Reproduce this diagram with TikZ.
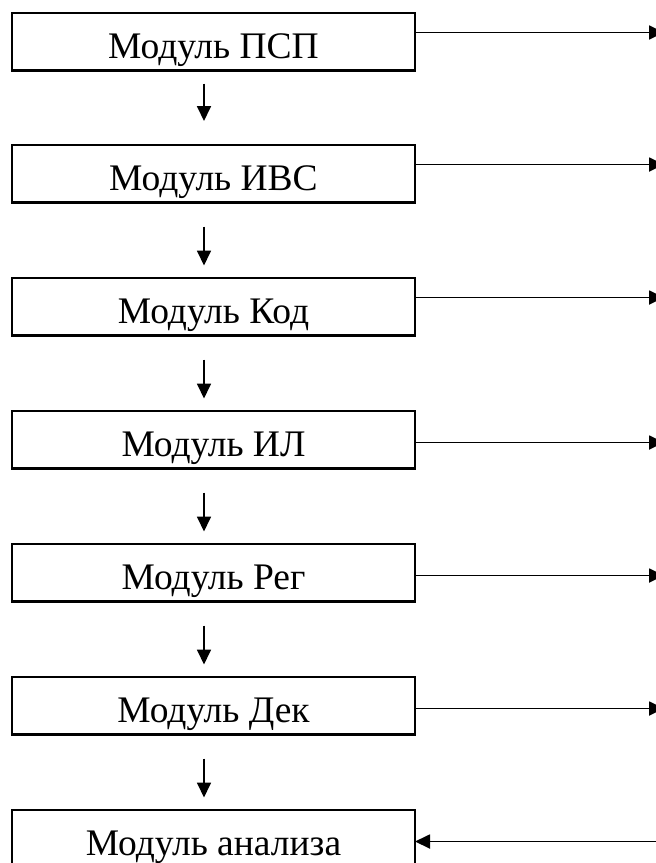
\documentclass[tikz,border=0pt]{standalone}
\usepackage{fontspec}
\setmainfont{Liberation Serif}
\usetikzlibrary{arrows.meta}
\begin{document}
\begin{tikzpicture}[x=1pt,y=-1pt,
  modbox/.style={draw, line width=2.2pt, minimum width=403pt, minimum height=57.5pt,
    inner sep=0pt, outer sep=0pt, anchor=north west, text height=40pt, text depth=7.5pt,
    font=\fontsize{37.5}{42}\selectfont},
  arr/.style={line width=1.8pt, -{Triangle[length=15pt,width=14pt]}},
  down/.style={arr, shorten <=24pt, shorten >=12.5pt}]
\useasboundingbox (0,0) rectangle (656,863);
\clip (0,0) rectangle (656,863);
\fill[white] (0,0) rectangle (656,863);
\node[modbox] (m1) at (12,13)  {Модуль ПСП};
\node[modbox] (m2) at (12,145) {Модуль ИВС};
\node[modbox] (m3) at (12,278) {Модуль Код};
\node[modbox] (m4) at (12,411) {Модуль ИЛ};
\node[modbox] (m5) at (12,544) {Модуль Рег};
\node[modbox] (m6) at (12,677) {Модуль Дек};
\node[modbox] (m7) at (12,810) {Модуль анализа};
% vertical arrows
\draw[arr, shorten <=13pt, shorten >=24pt] ([xshift=-9.5pt]m1.south) -- ([xshift=-9.5pt]m2.north);
\draw[down] ([xshift=-9.5pt]m2.south) -- ([xshift=-9.5pt]m3.north);
\draw[down] ([xshift=-9.5pt]m3.south) -- ([xshift=-9.5pt]m4.north);
\draw[down] ([xshift=-9.5pt]m4.south) -- ([xshift=-9.5pt]m5.north);
\draw[down] ([xshift=-9.5pt]m5.south) -- ([xshift=-9.5pt]m6.north);
\draw[down] ([xshift=-9.5pt]m6.south) -- ([xshift=-9.5pt]m7.north);
% outgoing arrows
\coordinate (o1) at (664,32.5);
\coordinate (o2) at (664,164.5);
\coordinate (o3) at (664,297.5);
\coordinate (o4) at (664,442.5);
\coordinate (o5) at (664,575.5);
\coordinate (o6) at (664,708.5);
\coordinate (i7) at (660,841.5);
\draw[arr] (m1.east |- o1) -- (o1);
\draw[arr] (m2.east |- o2) -- (o2);
\draw[arr] (m3.east |- o3) -- (o3);
\draw[arr] (m4.east |- o4) -- (o4);
\draw[arr] (m5.east |- o5) -- (o5);
\draw[arr] (m6.east |- o6) -- (o6);
\draw[arr] (i7) -- (m7.east |- i7);
\end{tikzpicture}
\end{document}
